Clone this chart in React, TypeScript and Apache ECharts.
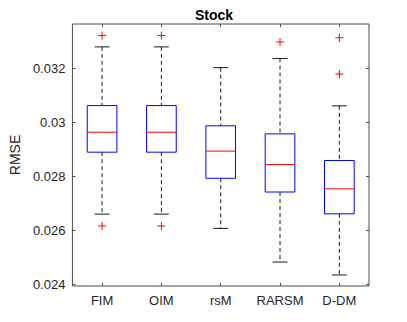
import React, { useEffect, useRef } from "react";
import * as echarts from "echarts";

const categories = ["FIM", "OIM", "rsM", "RARSM", "D-DM"];
const lowerWhisker = [0.0266, 0.0266, 0.02607, 0.02482, 0.02434];
const q1 = [0.0289, 0.0289, 0.02793, 0.02742, 0.02661];
const median = [0.02964, 0.02964, 0.02894, 0.02844, 0.02754];
const q3 = [0.03063, 0.03063, 0.02988, 0.02958, 0.02859];
const upperWhisker = [0.03281, 0.03281, 0.03204, 0.03238, 0.03062];
const outlierCategory = [0, 0, 1, 1, 3, 4, 4];
const outlierValue = [0.03323, 0.02616, 0.03323, 0.02616, 0.03299, 0.03315, 0.0318];
const yTicks = [0.024, 0.026, 0.028, 0.03, 0.032];

const FONT = "'Liberation Sans', Arial, Helvetica, sans-serif";
const AXIS_COLOR = "#4d4d4d";
const TEXT_COLOR = "#262626";

export default function App() {
  const ref = useRef<HTMLDivElement>(null);
  useEffect(() => {
    document.body.style.margin = "0";
    if (!ref.current) return;
    const chart = echarts.init(ref.current, undefined, { renderer: "svg" });
    const boxData = categories.map((_, i) => [
      i,
      lowerWhisker[i],
      q1[i],
      median[i],
      q3[i],
      upperWhisker[i],
    ]);
    const outData = outlierCategory.map((c, i) => [c, outlierValue[i]]);
    const yMin = 0.02393;
    const yMax = 0.03366;
    const xBase = {
      type: "category",
      data: categories,
      boundaryGap: true,
      axisLine: { show: false },
      splitLine: { show: false },
    };
    const yBase = {
      type: "value",
      min: yMin,
      max: yMax,
      axisLine: { show: false },
      splitLine: { show: false },
    };
    chart.setOption({
      animation: false,
      backgroundColor: "#ffffff",
      textStyle: { fontFamily: FONT },
      grid: {
        left: 59,
        right: 38,
        top: 24,
        bottom: 36,
        show: true,
        borderColor: AXIS_COLOR,
        borderWidth: 1,
        backgroundColor: "transparent",
      },
      graphic: [
        {
          type: "text",
          x: 214,
          y: 15,
          style: {
            text: "Stock",
            align: "center",
            verticalAlign: "middle",
            font: `bold 14px ${FONT}`,
            fill: "#000000",
          },
        },
      ],
      xAxis: [
        {
          ...xBase,
          position: "bottom",
          axisTick: {
            show: true,
            inside: true,
            alignWithLabel: true,
            interval: 0,
            length: 3,
            lineStyle: { color: AXIS_COLOR },
          },
          axisLabel: {
            show: true,
            interval: 0,
            hideOverlap: false,
            margin: 8,
            color: TEXT_COLOR,
            fontSize: 13,
            fontFamily: FONT,
          },
        },
        {
          ...xBase,
          position: "top",
          axisTick: {
            show: true,
            inside: true,
            alignWithLabel: true,
            interval: 0,
            length: 3,
            lineStyle: { color: AXIS_COLOR },
          },
          axisLabel: { show: false, interval: 0 },
        },
      ],
      yAxis: [
        {
          ...yBase,
          position: "left",
          name: "RMSE",
          nameLocation: "middle",
          nameRotate: 90,
          nameGap: 49,
          nameTextStyle: { color: TEXT_COLOR, fontSize: 14, fontFamily: FONT },
          axisTick: {
            show: true,
            inside: true,
            length: 3,
            customValues: yTicks,
            lineStyle: { color: AXIS_COLOR },
          },
          axisLabel: {
            show: true,
            customValues: yTicks,
            margin: 7,
            color: TEXT_COLOR,
            fontSize: 13,
            fontFamily: FONT,
            formatter: (v: number) => String(parseFloat(v.toFixed(6))),
          },
        },
        {
          ...yBase,
          position: "right",
          axisTick: {
            show: true,
            inside: true,
            length: 3,
            customValues: yTicks,
            lineStyle: { color: AXIS_COLOR },
          },
          axisLabel: { show: false },
        },
      ],
      series: [
        {
          type: "custom",
          xAxisIndex: 0,
          yAxisIndex: 0,
          encode: { x: 0, y: [1, 2, 3, 4, 5] },
          data: boxData,
          renderItem: (params: any, api: any) => {
            const idx = api.value(0);
            const cx = api.coord([idx, api.value(1)])[0];
            const yLw = api.coord([idx, api.value(1)])[1];
            const yQ1 = api.coord([idx, api.value(2)])[1];
            const yMed = api.coord([idx, api.value(3)])[1];
            const yQ3 = api.coord([idx, api.value(4)])[1];
            const yUw = api.coord([idx, api.value(5)])[1];
            const bw = api.size([1, 0])[0] * 0.5;
            const cw = bw * 0.5;
            const dash = { stroke: "#1a1a1a", lineWidth: 1, lineDash: [4, 3] };
            const solid = { stroke: "#1a1a1a", lineWidth: 1 };
            return {
              type: "group",
              children: [
                { type: "line", shape: { x1: cx, y1: yUw, x2: cx, y2: yQ3 }, style: dash },
                { type: "line", shape: { x1: cx, y1: yQ1, x2: cx, y2: yLw }, style: dash },
                { type: "line", shape: { x1: cx - cw / 2, y1: yUw, x2: cx + cw / 2, y2: yUw }, style: solid },
                { type: "line", shape: { x1: cx - cw / 2, y1: yLw, x2: cx + cw / 2, y2: yLw }, style: solid },
                {
                  type: "rect",
                  shape: { x: cx - bw / 2, y: yQ3, width: bw, height: yQ1 - yQ3 },
                  style: { fill: "none", stroke: "#0000ff", lineWidth: 1 },
                },
                {
                  type: "line",
                  shape: { x1: cx - bw / 2, y1: yMed, x2: cx + bw / 2, y2: yMed },
                  style: { stroke: "#ff0000", lineWidth: 1 },
                },
              ],
            };
          },
        },
        {
          type: "custom",
          xAxisIndex: 0,
          yAxisIndex: 0,
          encode: { x: 0, y: 1 },
          data: outData,
          renderItem: (params: any, api: any) => {
            const p = api.coord([api.value(0), api.value(1)]);
            const h = 4;
            const st = { stroke: "#ff0000", lineWidth: 1 };
            return {
              type: "group",
              children: [
                { type: "line", shape: { x1: p[0] - h, y1: p[1], x2: p[0] + h, y2: p[1] }, style: st },
                { type: "line", shape: { x1: p[0], y1: p[1] - h, x2: p[0], y2: p[1] + h }, style: st },
              ],
            };
          },
        },
      ],
    });
    return () => chart.dispose();
  }, []);
  return <div ref={ref} style={{ width: 407, height: 322 }} />;
}
